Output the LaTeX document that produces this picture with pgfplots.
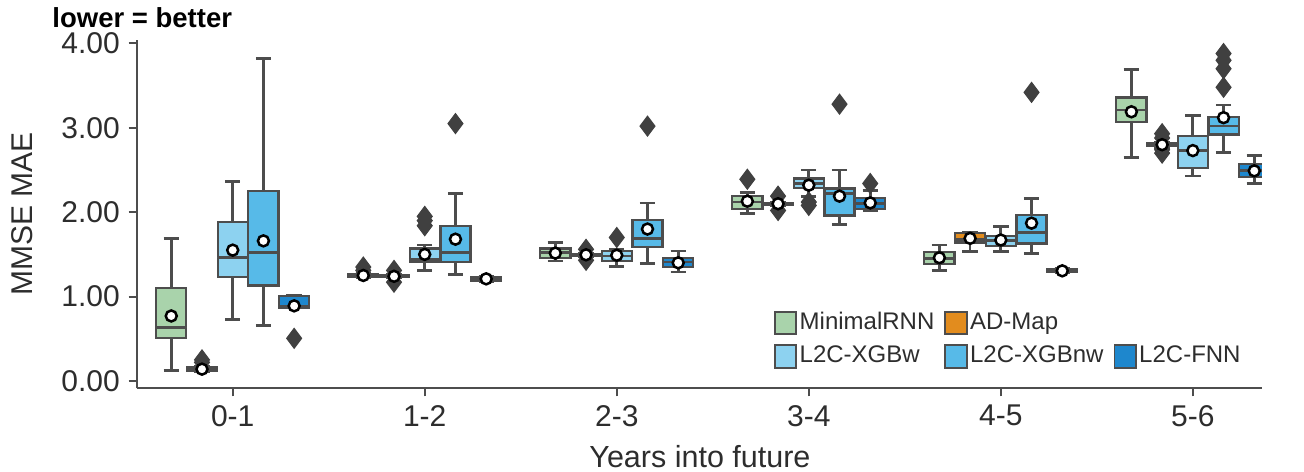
\documentclass[border=0pt]{standalone}
\usepackage{pgfplots}
\pgfplotsset{compat=1.18}
\usepgfplotslibrary{statistics}
\usepackage{fontspec}
\setmainfont{Liberation Sans}
\definecolor{cG}{RGB}{169,211,171}
\definecolor{cO}{RGB}{226,140,30}
\definecolor{cLB}{RGB}{141,210,240}
\definecolor{cMB}{RGB}{87,186,232}
\definecolor{cDB}{RGB}{30,135,205}
\definecolor{edge}{RGB}{77,77,77}
\definecolor{outl}{RGB}{64,64,64}
\definecolor{txt}{RGB}{45,45,45}
\newcommand{\bx}[7]{\addplot[forget plot, draw=edge, line width=0.9pt, fill=#7,
  boxplot prepared={draw direction=y, draw position=#1, lower whisker=#2, lower quartile=#3, median=#4,
  upper quartile=#5, upper whisker=#6, box extend=0.157, whisker extend=0.08,
  every median/.style={/tikz/draw=edge, /tikz/line width=1.1pt},
  every whisker/.style={/tikz/draw=edge, /tikz/line width=1.1pt}}] coordinates {};}
\begin{document}
\begin{tikzpicture}
\useasboundingbox (-54.68pt,-33.48pt) rectangle (466.92pt,155.32pt);
\begin{axis}[
  at={(0,0)}, anchor=south west,
  scale only axis, width=450.1pt, height=139.3pt,
  xmin=-0.5, xmax=5.36, ymin=-0.087, ymax=4.04,
  axis lines*=left,
  axis line style={-, draw=edge, line width=0.8pt},
  xtick={0,1,2,3,4,5}, xticklabels={0-1,1-2,2-3,3-4,4-5,5-6},
  ytick={0,1,2,3,4},
  /pgf/number format/assume math mode=true,
  y tick label style={/pgf/number format/.cd, fixed, fixed zerofill, precision=2},
  tick align=outside, major tick length=3.2pt,
  tick style={draw=edge, line width=0.8pt},
  tick label style={font=\fontsize{12pt}{14pt}\selectfont, text=txt},
  legend columns=3,
  legend cell align=left,
  legend image code/.code={\draw[#1, draw=edge, line width=0.7pt] (0pt,-4.5pt) rectangle (8.6pt,4.5pt);},
  legend style={draw=none, fill=none, inner sep=0pt, outer sep=0pt,
    at={(0.5663,0.2248)}, anchor=north west,
    font=\fontsize{9.6pt}{11pt}\selectfont, text=txt,
    row sep=3pt,
    nodes={inner sep=1pt},
    /tikz/every even column/.append style={column sep=3pt}},
]
% 0-1
\bx{-0.32}{0.12}{0.505}{0.63}{1.10}{1.69}{cG}
\bx{-0.16}{0.11}{0.12}{0.14}{0.16}{0.17}{cO}
\bx{0}{0.725}{1.23}{1.46}{1.885}{2.36}{cLB}
\bx{0.16}{0.655}{1.13}{1.52}{2.25}{3.82}{cMB}
\bx{0.32}{0.87}{0.87}{0.88}{1.01}{1.01}{cDB}
% 1-2
\bx{0.68}{1.22}{1.235}{1.25}{1.265}{1.28}{cG}
\bx{0.84}{1.22}{1.23}{1.24}{1.25}{1.26}{cO}
\bx{1}{1.31}{1.41}{1.44}{1.57}{1.61}{cLB}
\bx{1.16}{1.26}{1.41}{1.52}{1.84}{2.22}{cMB}
\bx{1.32}{1.18}{1.19}{1.21}{1.23}{1.24}{cDB}
% 2-3
\bx{1.68}{1.42}{1.46}{1.52}{1.57}{1.64}{cG}
\bx{1.84}{1.47}{1.48}{1.49}{1.50}{1.51}{cO}
\bx{2}{1.36}{1.42}{1.48}{1.54}{1.56}{cLB}
\bx{2.16}{1.39}{1.59}{1.69}{1.91}{2.11}{cMB}
\bx{2.32}{1.29}{1.35}{1.41}{1.46}{1.54}{cDB}
% 3-4
\bx{2.68}{1.98}{2.04}{2.12}{2.19}{2.23}{cG}
\bx{2.84}{2.08}{2.09}{2.10}{2.11}{2.12}{cO}
\bx{3}{2.19}{2.29}{2.34}{2.40}{2.50}{cLB}
\bx{3.16}{1.85}{1.96}{2.22}{2.28}{2.50}{cMB}
\bx{3.32}{2.02}{2.04}{2.10}{2.17}{2.26}{cDB}
% 4-5
\bx{3.68}{1.305}{1.385}{1.455}{1.53}{1.61}{cG}
\bx{3.84}{1.53}{1.64}{1.68}{1.75}{1.76}{cO}
\bx{4}{1.53}{1.60}{1.66}{1.72}{1.83}{cLB}
\bx{4.16}{1.51}{1.63}{1.76}{1.97}{2.16}{cMB}
\bx{4.32}{1.28}{1.29}{1.305}{1.32}{1.33}{cDB}
% 5-6
\bx{4.68}{2.65}{3.07}{3.21}{3.36}{3.69}{cG}
\bx{4.84}{2.77}{2.78}{2.80}{2.82}{2.83}{cO}
\bx{5}{2.43}{2.52}{2.73}{2.90}{3.15}{cLB}
\bx{5.16}{2.71}{2.92}{3.02}{3.13}{3.27}{cMB}
\bx{5.32}{2.34}{2.42}{2.49}{2.57}{2.67}{cDB}
% outliers
\addplot[forget plot, only marks, mark=diamond*, mark size=4pt, mark options={fill=outl, draw=outl, line width=0.4pt}] coordinates {
(-0.16,0.22)(-0.16,0.25)(0.32,0.505)
(0.68,1.31)(0.68,1.35)(0.84,1.17)(0.84,1.31)(1,1.84)(1,1.90)(1,1.95)(1.16,3.05)
(1.84,1.43)(1.84,1.56)(2,1.70)(2.16,3.02)
(2.68,2.39)(2.84,2.02)(2.84,2.19)(3,2.08)(3,2.12)(3.16,3.28)(3.32,2.34)
(4.16,3.42)
(4.84,2.70)(4.84,2.74)(4.84,2.88)(4.84,2.93)(5.16,3.48)(5.16,3.70)(5.16,3.80)(5.16,3.88)
};
% means
\addplot[forget plot, only marks, mark=*, mark size=2.2pt, mark options={fill=white, draw=black, line width=1pt}] coordinates {
(-0.32,0.77)(-0.16,0.14)(0,1.55)(0.16,1.66)(0.32,0.89)
(0.68,1.25)(0.84,1.24)(1,1.50)(1.16,1.68)(1.32,1.21)
(1.68,1.515)(1.84,1.495)(2,1.49)(2.16,1.80)(2.32,1.40)
(2.68,2.13)(2.84,2.10)(3,2.32)(3.16,2.19)(3.32,2.11)
(3.68,1.46)(3.84,1.69)(4,1.67)(4.16,1.87)(4.32,1.305)
(4.68,3.19)(4.84,2.80)(5,2.73)(5.16,3.12)(5.32,2.49)
};
\addlegendimage{fill=cG}\addlegendentry{MinimalRNN}
\addlegendimage{fill=cO}\addlegendentry{AD-Map}
\addlegendimage{empty legend}\addlegendentry{}
\addlegendimage{fill=cLB}\addlegendentry{L2C-XGBw}
\addlegendimage{fill=cMB}\addlegendentry{L2C-XGBnw}
\addlegendimage{fill=cDB}\addlegendentry{L2C-FNN}
\end{axis}
\node[anchor=base, font=\fontsize{12.2pt}{14pt}\selectfont, text=txt] at (225.3pt,-31.5pt) {Years into future};
\node[anchor=base, rotate=90, font=\fontsize{12pt}{14pt}\selectfont, text=txt] at (-41.5pt,69.7pt) {MMSE MAE};
\node[anchor=base west, font=\bfseries\fontsize{11pt}{13pt}\selectfont, inner sep=0pt] at (-33.9pt,144.5pt) {lower = better};
\end{tikzpicture}
\end{document}
